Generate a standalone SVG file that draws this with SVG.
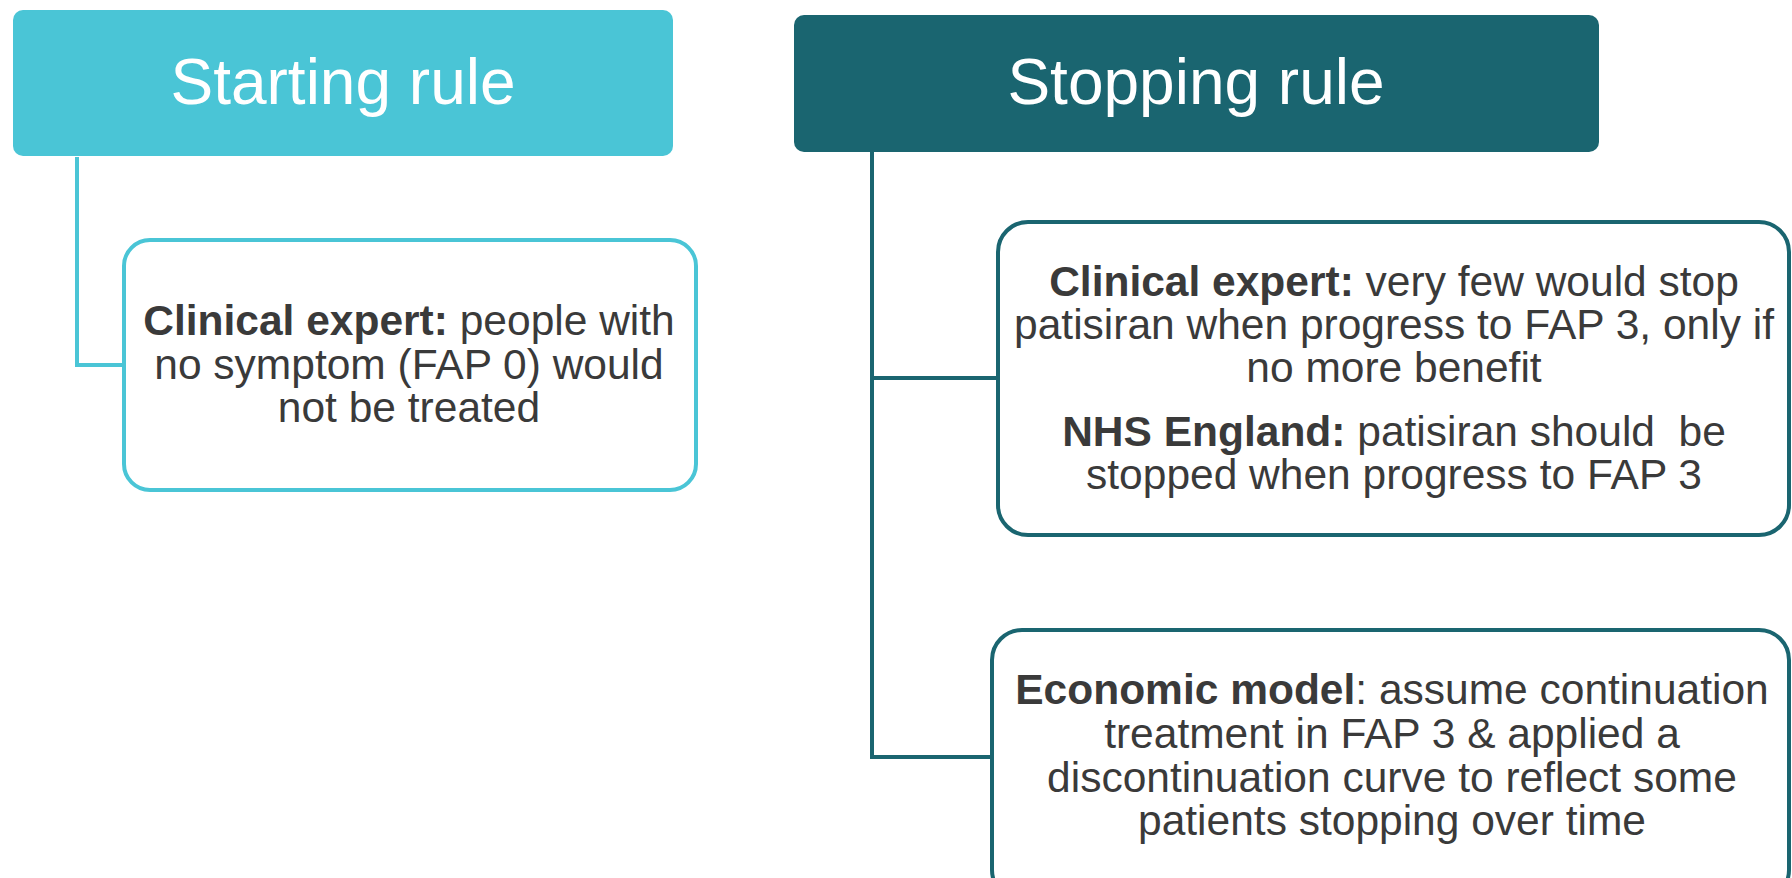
<svg xmlns="http://www.w3.org/2000/svg" width="1792" height="878" viewBox="0 0 1792 878">
<style>
.hdr{font-family:"Liberation Sans",Arial,sans-serif;font-size:64px;fill:#ffffff;text-anchor:middle}
.body{font-family:"Liberation Sans",Arial,sans-serif;font-size:42.5px;fill:#3a3a3a;text-anchor:middle}
.b{font-weight:bold}
.light{fill:#ffffff;stroke:#4ac5d6;stroke-width:4}
.dark{fill:#ffffff;stroke:#1a6570;stroke-width:4}
.cl{fill:none;stroke:#4ac5d6;stroke-width:4}
.cd{fill:none;stroke:#1a6570;stroke-width:4}
</style>
<rect width="1792" height="878" fill="#ffffff"/>
<g id="connectors">
<polyline class="cl" points="77,157 77,365 124,365"/>
<polyline class="cd" points="872,152 872,757 992,757"/>
<line class="cd" x1="872" y1="378" x2="998" y2="378"/>
</g>
<g id="starting-rule">
<rect x="13" y="10" width="660" height="146" rx="10" fill="#4ac5d6"/>
<text class="hdr" x="343" y="104">Starting rule</text>
</g>
<g id="stopping-rule">
<rect x="794" y="15" width="805" height="137" rx="10" fill="#1a6570"/>
<text class="hdr" x="1196" y="104">Stopping rule</text>
</g>
<g id="start-expert">
<rect class="light" x="124" y="240" width="572" height="250" rx="26"/>
<text class="body" x="409" y="335"><tspan class="b">Clinical expert:</tspan> people with</text>
<text class="body" x="409" y="379">no symptom (FAP 0) would</text>
<text class="body" x="409" y="422">not be treated</text>
</g>
<g id="stop-expert">
<rect class="dark" x="998" y="222" width="791" height="313" rx="30"/>
<text class="body" x="1394" y="296"><tspan class="b">Clinical expert:</tspan> very few would stop</text>
<text class="body" x="1394" y="339">patisiran when progress to FAP 3, only if</text>
<text class="body" x="1394" y="382">no more benefit</text>
<text class="body" x="1394" y="446" xml:space="preserve"><tspan class="b">NHS England:</tspan> patisiran should  be</text>
<text class="body" x="1394" y="489">stopped when progress to FAP 3</text>
</g>
<g id="economic-model">
<rect class="dark" x="992" y="630" width="797" height="270" rx="30"/>
<text class="body" x="1392" y="704"><tspan class="b">Economic model</tspan>: assume continuation</text>
<text class="body" x="1392" y="748">treatment in FAP 3 &amp; applied a</text>
<text class="body" x="1392" y="792">discontinuation curve to reflect some</text>
<text class="body" x="1392" y="835">patients stopping over time</text>
</g>
</svg>
